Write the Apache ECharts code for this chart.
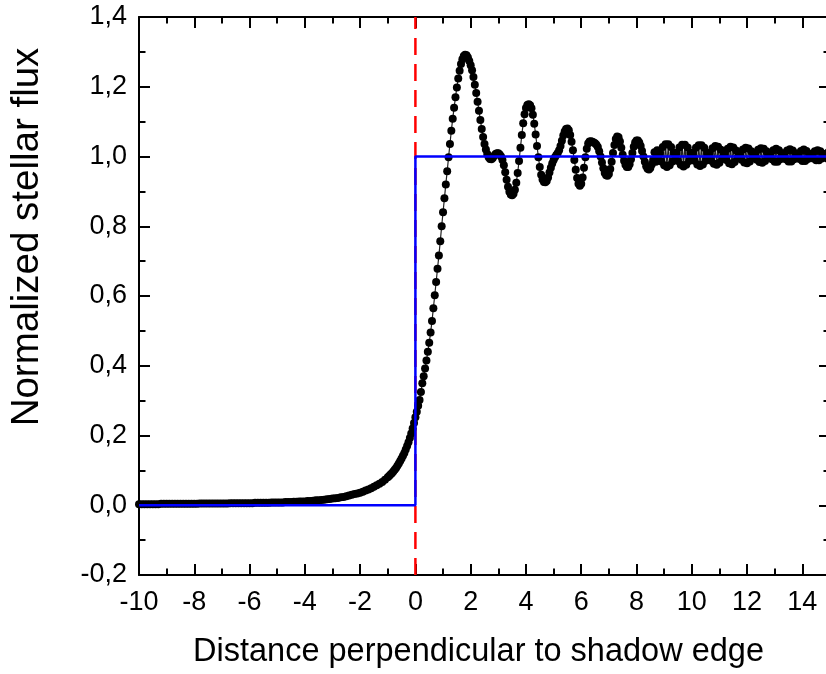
<!DOCTYPE html>
<html><head><meta charset="utf-8">
<script src="https://cdn.jsdelivr.net/npm/echarts@6/dist/echarts.min.js"></script>
<style>html,body{margin:0;padding:0;overflow:hidden;background:#fff}#c{width:834px;height:674px}</style>
</head><body><div id="c"></div>
<script>
// x tick values and y tick values
const xTickValues = [-10,-8,-6,-4,-2,0,2,4,6,8,10,12,14];
const yTickValues = [-0.2,0,0.2,0.4,0.6,0.8,1.0,1.2,1.4];
const xTitle = 'Distance perpendicular to shadow edge';
const yTitle = 'Normalized stellar flux';

// measured flux, shadow side (x < 0)
const shadowSide = [
[-10,.003],[-9.9,.003],[-9.8,.003],[-9.7,.003],[-9.6,.003],[-9.5,.003],[-9.4,.003],[-9.3,.003],[-9.2,.004],[-9.1,.004],
[-9,.004],[-8.9,.004],[-8.8,.004],[-8.7,.004],[-8.6,.004],[-8.5,.004],[-8.4,.004],[-8.3,.004],[-8.2,.004],[-8.1,.004],
[-8,.004],[-7.9,.004],[-7.8,.005],[-7.7,.005],[-7.6,.005],[-7.5,.005],[-7.4,.005],[-7.3,.005],[-7.2,.005],[-7.1,.005],
[-7,.005],[-6.9,.005],[-6.8,.005],[-6.7,.006],[-6.6,.006],[-6.5,.006],[-6.4,.006],[-6.3,.006],[-6.2,.006],[-6.1,.006],
[-6,.006],[-5.9,.006],[-5.8,.007],[-5.7,.007],[-5.6,.007],[-5.5,.007],[-5.4,.007],[-5.3,.007],[-5.2,.008],[-5.1,.008],
[-5,.008],[-4.9,.008],[-4.8,.008],[-4.7,.009],[-4.6,.009],[-4.5,.009],[-4.4,.010],[-4.3,.010],[-4.2,.011],[-4.1,.011],
[-4,.011],[-3.9,.012],[-3.8,.012],[-3.7,.013],[-3.6,.014],[-3.5,.014],[-3.4,.015],[-3.3,.016],[-3.2,.017],[-3.1,.018],
[-3,.019],[-2.9,.020],[-2.8,.021],[-2.7,.023],[-2.6,.024],[-2.5,.026],[-2.4,.028],[-2.3,.030],[-2.2,.032],[-2.1,.034],
[-2,.036],[-1.9,.039],[-1.8,.042],[-1.7,.045],[-1.6,.049],[-1.5,.053],[-1.4,.057],[-1.3,.062],[-1.2,.067],[-1.1,.073],
[-1,.080],[-0.95,.084],[-0.9,.088],[-0.85,.092],[-0.8,.097],[-0.75,.102],[-0.7,.107],[-0.65,.113],[-0.6,.120],[-0.55,.127],
[-0.5,.134],[-0.45,.142],[-0.4,.150],[-0.35,.160],[-0.3,.170],[-0.25,.181],[-0.2,.193],[-0.15,.206],[-0.1,.220],[-0.05,.236]
];
// measured flux, illuminated side (x >= 0)
const litSide = [
[0,.252],[0.05,.268],[0.1,.285],[0.15,.302],[0.2,.325],[0.25,.350],[0.3,.370],[0.35,.392],[0.4,.415],[0.45,.440],
[0.5,.466],[0.55,.495],[0.6,.528],[0.65,.565],[0.7,.602],[0.75,.640],[0.8,.678],[0.85,.716],[0.9,.757],[0.95,.800],
[1,.840],[1.05,.880],[1.1,.920],[1.15,.958],[1.2,.998],[1.25,1.036],[1.3,1.074],[1.35,1.108],[1.4,1.140],[1.45,1.170],
[1.5,1.198],[1.55,1.224],[1.6,1.246],[1.65,1.265],[1.7,1.279],[1.75,1.288],[1.8,1.292],[1.85,1.290],[1.9,1.284],[1.95,1.274],
[2,1.262],[2.05,1.247],[2.1,1.228],[2.15,1.206],[2.2,1.182],[2.25,1.157],[2.3,1.131],[2.35,1.105],[2.4,1.079],[2.45,1.056],
[2.5,1.036],[2.55,1.020],[2.6,1.007],[2.65,.998],[2.7,.993],[2.75,.992],[2.8,.996],[2.85,1.002],[2.9,1.007],[2.95,1.009],
[3,1.009],[3.05,1.006],[3.1,1.000],[3.15,.990],[3.2,.975],[3.25,.955],[3.3,.933],[3.35,.913],[3.4,.899],[3.45,.891],
[3.5,.889],[3.55,.893],[3.6,.905],[3.65,.925],[3.7,.953],[3.75,.987],[3.8,1.025],[3.85,1.062],[3.9,1.095],[3.95,1.121],
[4,1.139],[4.05,1.148],[4.1,1.150],[4.15,1.147],[4.2,1.138],[4.25,1.120],[4.3,1.094],[4.35,1.063],[4.4,1.030],[4.45,.998],
[4.5,.970],[4.55,.948],[4.6,.934],[4.65,.927],[4.7,.926],[4.75,.930],[4.8,.940],[4.85,.954],[4.9,.968],[4.95,.980],
[5,.990],[5.05,.998],[5.1,1.004],[5.15,1.010],[5.2,1.018],[5.25,1.030],[5.3,1.045],[5.35,1.060],[5.4,1.072],[5.45,1.079],
[5.5,1.080],[5.55,1.075],[5.6,1.062],[5.65,1.042],[5.7,1.018],[5.75,.990],[5.8,.962],[5.85,.938],[5.9,.922],[5.95,.916],
[6,.922],[6.05,.940],[6.1,.968],[6.15,.998],[6.2,1.022],[6.25,1.037],[6.3,1.043],[6.35,1.044],[6.4,1.042],[6.45,1.040],
[6.5,1.038],[6.55,1.034],[6.6,1.027],[6.65,1.015],[6.7,1.000],[6.75,.983],[6.8,.966],[6.85,.953],[6.9,.946],[6.95,.945],
[7,.950],[7.05,.964],[7.1,.985],[7.15,1.010],[7.2,1.033],[7.25,1.050],[7.3,1.057],[7.35,1.055],[7.4,1.043],[7.45,1.025],
[7.5,1.005],[7.55,.988],[7.6,.976],[7.65,.970],[7.7,.970],[7.75,.978],[7.8,.992],[7.85,1.010],[7.9,1.028],[7.95,1.040],
[8,1.046],[8.05,1.046],[8.1,1.040],[8.15,1.030],[8.2,1.016],[8.25,1.000],[8.3,.985],[8.35,.972],[8.4,.965],[8.45,.963],
[8.5,.967],[8.55,.977],[8.6,.990],[8.65,1.012],[8.7,.985],[8.75,1.018],
[8.8,1.003],[8.85,1.011],[8.9,.986],[8.95,1.027],[9,.975],[9.05,1.035],[9.1,.970],[9.15,1.035],[9.2,.975],[9.25,1.027],[9.3,.986],[9.35,1.011],
[9.4,1.003],[9.45,1.011],[9.5,.987],[9.55,1.026],[9.6,.976],[9.65,1.034],[9.7,.971],[9.75,1.034],[9.8,.976],[9.85,1.026],[9.9,.987],[9.95,1.011],
[10,1.003],[10.05,1.011],[10.1,.988],[10.15,1.025],[10.2,.977],[10.25,1.032],[10.3,.973],[10.35,1.032],[10.4,.977],[10.45,1.025],[10.5,.988],[10.55,1.011],
[10.6,1.003],[10.65,1.011],[10.7,.988],[10.75,1.024],[10.8,.979],[10.85,1.030],[10.9,.976],[10.95,1.028],[11,.982],[11.05,1.019],[11.1,.994],
[11.15,1.003],[11.2,1.010],[11.25,.990],[11.3,1.022],[11.35,.981],[11.4,1.028],[11.45,.978],[11.5,1.026],[11.55,.984],[11.6,1.017],[11.65,.995],
[11.7,1.003],[11.75,1.009],[11.8,.991],[11.85,1.020],[11.9,.983],[11.95,1.025],[12,.981],[12.05,1.023],[12.1,.986],[12.15,1.015],[12.2,.996],
[12.25,1.003],[12.3,1.009],[12.35,.991],[12.4,1.019],[12.45,.984],[12.5,1.024],[12.55,.982],[12.6,1.022],[12.65,.987],[12.7,1.015],[12.75,.997],
[12.8,1.003],[12.85,1.009],[12.9,.992],[12.95,1.018],[13,.985],[13.05,1.022],[13.1,.985],[13.15,1.018],[13.2,.992],[13.25,1.009],
[13.3,1.003],[13.35,1.009],[13.4,.992],[13.45,1.017],[13.5,.986],[13.55,1.021],[13.6,.986],[13.65,1.017],[13.7,.992],[13.75,1.009],
[13.8,1.003],[13.85,1.008],[13.9,.993],[13.95,1.016],[14,.987],[14.05,1.020],[14.1,.987],[14.15,1.016],[14.2,.993],[14.25,1.008],
[14.3,1.003],[14.35,1.008],[14.4,.994],[14.45,1.015],[14.5,.989],[14.55,1.018],[14.6,.989],[14.65,1.015],[14.7,.994],[14.75,1.008],
[14.8,1.003],[14.85,1.008],[14.9,.994],[14.95,1.013],[15,.991]
];
// geometric shadow (step) and shadow edge position
const geometricShadow = [[-10,0],[0,0],[0,1],[15,1]];
const shadowEdge = [[0,-0.2],[0,1.4]];

const fluxPoints = shadowSide.concat(litSide);
const fmt = v => v.toFixed(1).replace('.', ',');
const FONT = '"Liberation Sans", Arial, sans-serif';

const axisCommon = {
  axisLine: {show: true, onZero: false, lineStyle: {color: '#000', width: 2}},
  axisTick: {show: true, inside: true, length: 11, lineStyle: {color: '#000', width: 2}},
  minorTick: {show: true, splitNumber: 2, length: 6.5, lineStyle: {color: '#000', width: 2}},
  splitLine: {show: false}, minorSplitLine: {show: false}
};

const chart = echarts.init(document.getElementById('c'), null, {renderer: 'canvas'});
chart.setOption({
  animation: false,
  backgroundColor: '#fff',
  grid: {left: 138, top: 17, width: 692, height: 563, containLabel: false},
  xAxis: [
    Object.assign({type: 'value', min: -10, max: 15, interval: 2, position: 'bottom',
      name: xTitle, nameLocation: 'middle', nameGap: 61,
      nameTextStyle: {fontFamily: FONT, fontSize: 32.5, color: '#000', padding: [0, 12, 0, 0]},
      axisLabel: {show: true, margin: 14, fontFamily: FONT, fontSize: 27, color: '#000', showMaxLabel: false,
        formatter: v => xTickValues.includes(v) ? String(v) : ''}}, axisCommon),
    Object.assign({type: 'value', min: -10, max: 15, interval: 2, position: 'top', axisLabel: {show: false}}, axisCommon)
  ],
  yAxis: [
    Object.assign({type: 'value', min: -0.2, max: 1.4, interval: 0.2, position: 'left',
      name: yTitle, nameLocation: 'middle', nameGap: 92, nameRotate: 90,
      nameTextStyle: {fontFamily: FONT, fontSize: 38.5, color: '#000', padding: [0, 0, 0, 118]},
      axisLabel: {show: true, margin: 12, fontFamily: FONT, fontSize: 27, color: '#000',
        formatter: v => yTickValues.some(t => Math.abs(t - v) < 1e-9) ? fmt(v) : ''}}, axisCommon),
    Object.assign({type: 'value', min: -0.2, max: 1.4, interval: 0.2, position: 'right', axisLabel: {show: false}}, axisCommon)
  ],
  series: [
    {type: 'line', name: 'edge', data: shadowEdge, symbol: 'none', silent: true, z: 1,
      lineStyle: {color: '#ff0000', width: 2.5, type: [17, 9]}},
    {type: 'line', name: 'flux', data: fluxPoints, symbol: 'circle', symbolSize: 8, showSymbol: true, showAllSymbol: true,
      silent: true, z: 2, itemStyle: {color: '#000'}, lineStyle: {color: '#222', width: 1.2}},
    {type: 'line', name: 'geometric', data: geometricShadow, symbol: 'none', silent: true, z: 3,
      lineStyle: {color: '#0000ff', width: 2.5}}
  ]
});
</script></body></html>
